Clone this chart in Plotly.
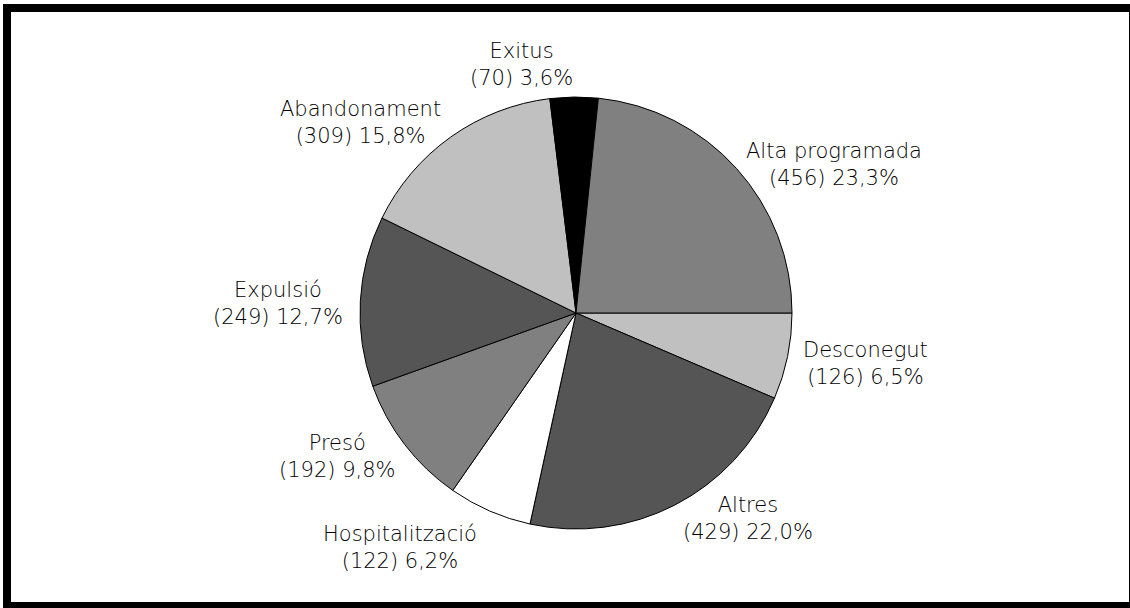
import plotly.graph_objects as go

labels = ["Alta programada", "Exitus", "Abandonament", "Expulsió", "Presó",
          "Hospitalització", "Altres", "Desconegut"]
values = [456, 70, 309, 249, 192, 122, 429, 126]
colors = ["#808080", "#000000", "#c0c0c0", "#555555", "#808080",
          "#ffffff", "#555555", "#c0c0c0"]

# label block centres in pixels (x from left, y from top)
label_pos = [(834, 165), (521, 64), (360, 122), (278, 303), (337, 456),
             (400, 547), (748, 518), (866, 363)]

total = sum(values)
text = []
for lab, v in zip(labels, values):
    pct = f"{v / total * 100:.1f}".replace(".", ",")
    text.append(f"{lab}<br>({v}) {pct}%")

W, H = 1130, 608
cx, cy, r = 576, 313, 216

fig = go.Figure()
# slices drawn clockwise from 3 o'clock in reverse order -> counterclockwise in list order
fig.add_trace(go.Pie(
    labels=labels[::-1],
    values=values[::-1],
    textinfo="none",
    sort=False,
    direction="clockwise",
    rotation=90,
    marker=dict(colors=colors[::-1], line=dict(color="black", width=1)),
    domain=dict(x=[(cx - r) / W, (cx + r) / W],
                y=[(H - cy - r) / H, (H - cy + r) / H]),
    showlegend=False,
    hoverinfo="label+value+percent",
))

for t, (px, py) in zip(text, label_pos):
    fig.add_annotation(x=px / W, y=1 - py / H, xref="paper", yref="paper",
                       text=t, showarrow=False, xanchor="center", yanchor="middle",
                       align="center")

fig.update_layout(
    width=W, height=H,
    margin=dict(l=0, r=0, t=0, b=0),
    paper_bgcolor="white",
    font=dict(family="DejaVu Sans", size=21, color="#000000", weight=200),
    shapes=[dict(type="rect", xref="paper", yref="paper",
                 x0=7 / W, x1=1133 / W, y0=1 - 606 / H, y1=1 - 8 / H,
                 line=dict(color="black", width=8))],
)

fig.write_html("out.html", config={"displayModeBar": False},
               post_script="document.body.style.margin='0';")
